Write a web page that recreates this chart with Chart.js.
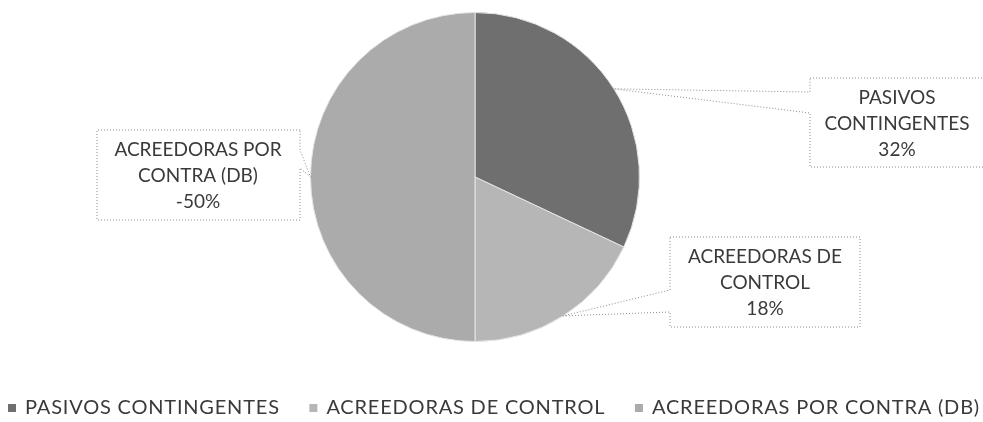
<!DOCTYPE html>
<html>
<head>
<meta charset="utf-8">
<script src="https://cdn.jsdelivr.net/npm/chart.js@4.4.1/dist/chart.umd.min.js"></script>
<style>
  html, body { margin: 0; background: #fff; }
  #contenedor { width: 983px; height: 422px; position: relative; }
</style>
</head>
<body>
<div id="contenedor"><canvas id="graficoCuentas"></canvas></div>
<script>
// datos
const categorias = ["PASIVOS CONTINGENTES", "ACREEDORAS DE CONTROL", "ACREEDORAS POR CONTRA (DB)"];
const etiquetas = [["PASIVOS", "CONTINGENTES"], ["ACREEDORAS DE", "CONTROL"], ["ACREEDORAS POR", "CONTRA (DB)"]];
const porcentajes = [32, 18, -50];
const colores = ["#6f6f6f", "#b6b6b6", "#ababab"];

const fuente = "Lato, 'Open Sans', sans-serif";
const colorTexto = "#3a3a3a";

// cajas de las llamadas (x, y, ancho, alto, lado del puntero, tramo del puntero)
const cajas = [
  { x: 810, y: 78, w: 180, h: 89, lado: "izq", p1: 14, p2: 35, cx: 897 },
  { x: 670, y: 237, w: 190, h: 90, lado: "izq", p1: 53, p2: 75, cx: 765 },
  { x: 97, y: 130, w: 203, h: 90, lado: "der", p1: 20, p2: 38, cx: 198 },
];

const llamadas = {
  id: "llamadas",
  afterDraw(chart) {
    const ctx = chart.ctx;
    const meta = chart.getDatasetMeta(0);
    ctx.save();
    meta.data.forEach((arc, i) => {
      const { x, y, startAngle, endAngle, outerRadius } = arc.getProps(["x", "y", "startAngle", "endAngle", "outerRadius"], true);
      const medio = (startAngle + endAngle) / 2;
      const px = x + Math.cos(medio) * outerRadius;
      const py = y + Math.sin(medio) * outerRadius;
      const c = cajas[i];

      ctx.beginPath();
      ctx.setLineDash([1, 2]);
      ctx.strokeStyle = "#8a8a8a";
      ctx.lineWidth = 1;
      if (c.lado === "izq") {
        ctx.moveTo(c.x, c.y);
        ctx.lineTo(c.x + c.w, c.y);
        ctx.lineTo(c.x + c.w, c.y + c.h);
        ctx.lineTo(c.x, c.y + c.h);
        ctx.lineTo(c.x, c.y + c.p2);
        ctx.lineTo(px, py);
        ctx.lineTo(c.x, c.y + c.p1);
        ctx.closePath();
      } else {
        ctx.moveTo(c.x + c.w, c.y);
        ctx.lineTo(c.x, c.y);
        ctx.lineTo(c.x, c.y + c.h);
        ctx.lineTo(c.x + c.w, c.y + c.h);
        ctx.lineTo(c.x + c.w, c.y + c.p2);
        ctx.lineTo(px, py);
        ctx.lineTo(c.x + c.w, c.y + c.p1);
        ctx.closePath();
      }
      ctx.stroke();
      ctx.setLineDash([]);

      ctx.fillStyle = colorTexto;
      ctx.font = "19px " + fuente;
      ctx.textAlign = "center";
      ctx.textBaseline = "middle";
      const lineas = etiquetas[i].concat([porcentajes[i] + "%"]);
      lineas.forEach((t, j) => ctx.fillText(t, c.cx, c.y + 20 + j * 26));
    });
    ctx.restore();
  }
};

// leyenda inferior repartida de x=8 a x=980
const leyenda = {
  id: "leyenda",
  afterDraw(chart) {
    const ctx = chart.ctx;
    ctx.save();
    ctx.font = "20px " + fuente;
    ctx.letterSpacing = "0.8px";
    ctx.textBaseline = "middle";
    ctx.textAlign = "left";
    const caja = 8, sep = 9, inicio = 8, fin = 980, yLeyenda = 408;
    const anchos = categorias.map(t => ctx.measureText(t).width);
    const ocupado = anchos.reduce((a, w) => a + caja + sep + w, 0);
    const hueco = (fin - inicio - ocupado) / (categorias.length - 1);
    let x = inicio;
    categorias.forEach((t, i) => {
      ctx.fillStyle = colores[i];
      ctx.fillRect(x, yLeyenda - caja / 2, caja, caja);
      ctx.fillStyle = colorTexto;
      ctx.fillText(t, x + caja + sep, yLeyenda);
      x += caja + sep + anchos[i] + hueco;
    });
    ctx.restore();
  }
};

new Chart(document.getElementById("graficoCuentas"), {
  type: "pie",
  data: {
    labels: categorias,
    datasets: [{
      data: porcentajes.map(v => Math.abs(v)),
      backgroundColor: colores,
      borderColor: "#e4e4e4",
      borderWidth: 1,
    }]
  },
  options: {
    responsive: true,
    maintainAspectRatio: false,
    animation: false,
    layout: { padding: { top: 12, bottom: 80, left: 0, right: 33 } },
    plugins: {
      legend: { display: false },
      tooltip: { enabled: false },
    },
  },
  plugins: [llamadas, leyenda],
});
</script>
</body>
</html>
